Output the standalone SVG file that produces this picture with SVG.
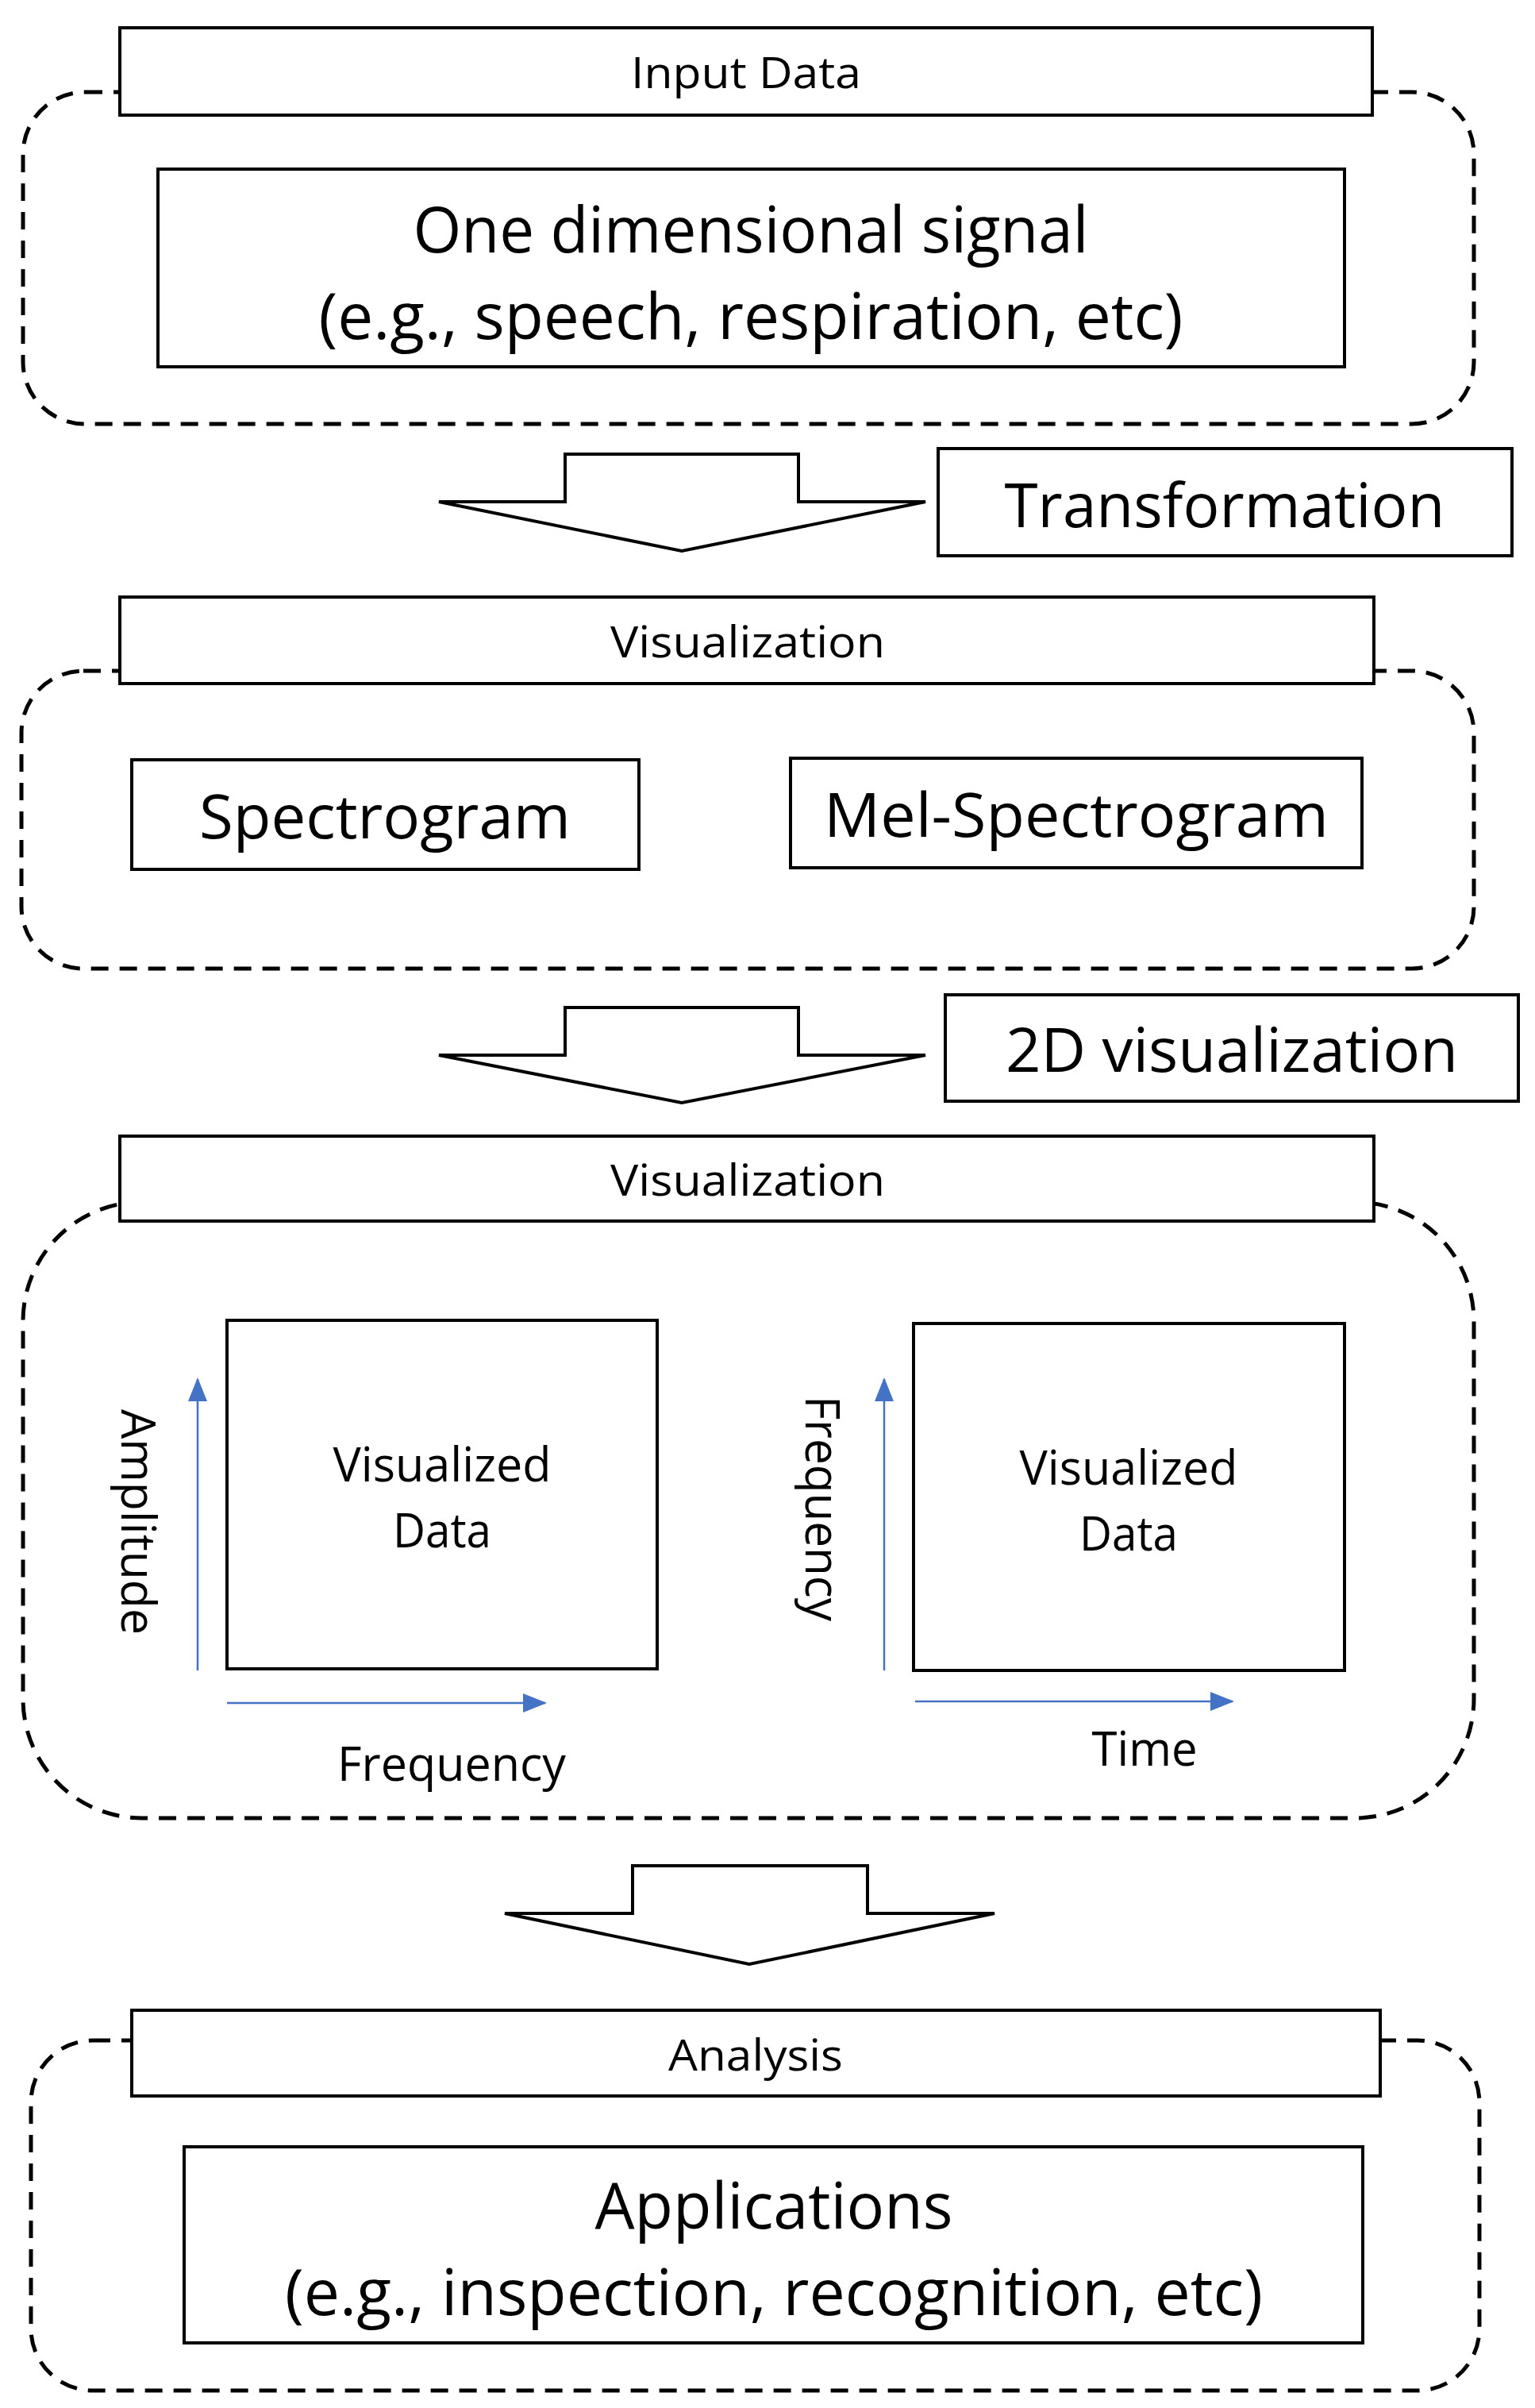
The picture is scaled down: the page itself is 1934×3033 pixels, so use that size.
<svg xmlns="http://www.w3.org/2000/svg" width="1934" height="3033" viewBox="0 0 1934 3033">
<style>
.grp{fill:none;stroke:#000;stroke-width:5;stroke-dasharray:22 14}
.box{fill:#fff;stroke:#000;stroke-width:4}
.arr{fill:#fff;stroke:#000;stroke-width:4;stroke-linejoin:miter}
text{font-family:"Open Sans","Liberation Sans",sans-serif;fill:#000;text-anchor:middle;dominant-baseline:central}
.s{font-size:54px}.m{font-size:76px}.l{font-size:80px}.v{font-size:60px}
.ax{stroke:#4472C4;stroke-width:2.5;fill:none}
</style>
<defs><marker id="ah" markerWidth="10" markerHeight="10" refX="9" refY="5" orient="auto" markerUnits="userSpaceOnUse"><path d="M0,0 L28,5 L0,10z" fill="#4472C4" transform="scale(0.36,1)"/></marker>
<marker id="bh" markerWidth="30" markerHeight="24" refX="28" refY="12" orient="auto" markerUnits="userSpaceOnUse"><path d="M0,0 L30,12 L0,24z" fill="#4472C4"/></marker></defs>
<g id="group-input"><rect class="grp" x="29" y="116" width="1828" height="418" rx="78"/></g>
<g id="input-data"><rect class="box" x="151" y="35" width="1578" height="110"/><text class="s" x="940" y="90" textLength="290" lengthAdjust="spacingAndGlyphs">Input Data</text></g>
<g id="signal"><rect class="box" x="199" y="213" width="1495" height="249"/><text class="l" x="946" y="286" textLength="851" lengthAdjust="spacingAndGlyphs">One dimensional signal</text><text class="l" x="946" y="395" textLength="1089" lengthAdjust="spacingAndGlyphs">(e.g., speech, respiration, etc)</text></g>
<g id="transformation"><rect class="box" x="1182" y="565" width="723" height="135"/><text class="m" x="1543" y="634" textLength="555" lengthAdjust="spacingAndGlyphs">Transformation</text></g>
<g id="group-vis1"><rect class="grp" x="27" y="845" width="1830" height="375" rx="78"/></g>
<g id="visualization1"><rect class="box" x="151" y="752" width="1580" height="109"/><text class="s" x="942" y="807" textLength="346" lengthAdjust="spacingAndGlyphs">Visualization</text></g>
<g id="spectrogram"><rect class="box" x="166" y="957" width="639" height="138"/><text class="m" x="485" y="1026" textLength="468" lengthAdjust="spacingAndGlyphs">Spectrogram</text></g>
<g id="mel"><rect class="box" x="996" y="955" width="720" height="138"/><text class="m" x="1356" y="1024" textLength="636" lengthAdjust="spacingAndGlyphs">Mel-Spectrogram</text></g>
<g id="vis2d"><rect class="box" x="1191" y="1253" width="722" height="134"/><text class="m" x="1552" y="1320" textLength="570" lengthAdjust="spacingAndGlyphs">2D visualization</text></g>
<g id="group-vis2"><rect class="grp" x="29" y="1514" width="1828" height="776" rx="150"/></g>
<g id="visualization2"><rect class="box" x="151" y="1431" width="1580" height="107"/><text class="s" x="942" y="1485" textLength="346" lengthAdjust="spacingAndGlyphs">Visualization</text></g>
<g id="vis-left"><rect class="box" x="286" y="1663" width="542" height="439"/><text class="v" x="557" y="1843" textLength="275" lengthAdjust="spacingAndGlyphs">Visualized</text><text class="v" x="557" y="1926" textLength="124" lengthAdjust="spacingAndGlyphs">Data</text></g>
<g id="vis-right"><rect class="box" x="1151" y="1667" width="543" height="437"/><text class="v" x="1422" y="1847" textLength="275" lengthAdjust="spacingAndGlyphs">Visualized</text><text class="v" x="1422" y="1930" textLength="124" lengthAdjust="spacingAndGlyphs">Data</text></g>
<g id="axis-labels">
<text class="v" transform="translate(176,1917) rotate(90)" textLength="284" lengthAdjust="spacingAndGlyphs">Amplitude</text>
<text class="v" transform="translate(1038,1900) rotate(90)" textLength="284" lengthAdjust="spacingAndGlyphs">Frequency</text>
<text class="v" x="569" y="2220" textLength="288" lengthAdjust="spacingAndGlyphs">Frequency</text>
<text class="v" x="1442" y="2201" textLength="133" lengthAdjust="spacingAndGlyphs">Time</text>
</g>
<g id="analysis-group"><rect class="grp" x="39" y="2570" width="1825" height="441" rx="78"/></g>
<g id="analysis"><rect class="box" x="166" y="2532" width="1573" height="108"/><text class="s" x="952" y="2587" textLength="220" lengthAdjust="spacingAndGlyphs">Analysis</text></g>
<g id="applications"><rect class="box" x="232" y="2704" width="1485" height="247"/><text class="l" x="975" y="2775" textLength="451" lengthAdjust="spacingAndGlyphs">Applications</text><text class="l" x="975" y="2884" textLength="1232" lengthAdjust="spacingAndGlyphs">(e.g., inspection, recognition, etc)</text></g>
<g id="connectors">
<polygon class="arr" points="712,572 1006,572 1006,632 1166,632 859,694 553,632 712,632"/>
<polygon class="arr" points="712,1269 1006,1269 1006,1329 1166,1329 859,1389 553,1329 712,1329"/>
<polygon class="arr" points="797,2350 1093,2350 1093,2410 1253,2410 944,2474 636,2410 797,2410"/>
<line class="ax" x1="249" y1="2104" x2="249" y2="1737" marker-end="url(#bh)"/>
<line class="ax" x1="286" y1="2145" x2="687" y2="2145" marker-end="url(#bh)"/>
<line class="ax" x1="1114" y1="2104" x2="1114" y2="1737" marker-end="url(#bh)"/>
<line class="ax" x1="1153" y1="2143" x2="1553" y2="2143" marker-end="url(#bh)"/>
</g>
</svg>
